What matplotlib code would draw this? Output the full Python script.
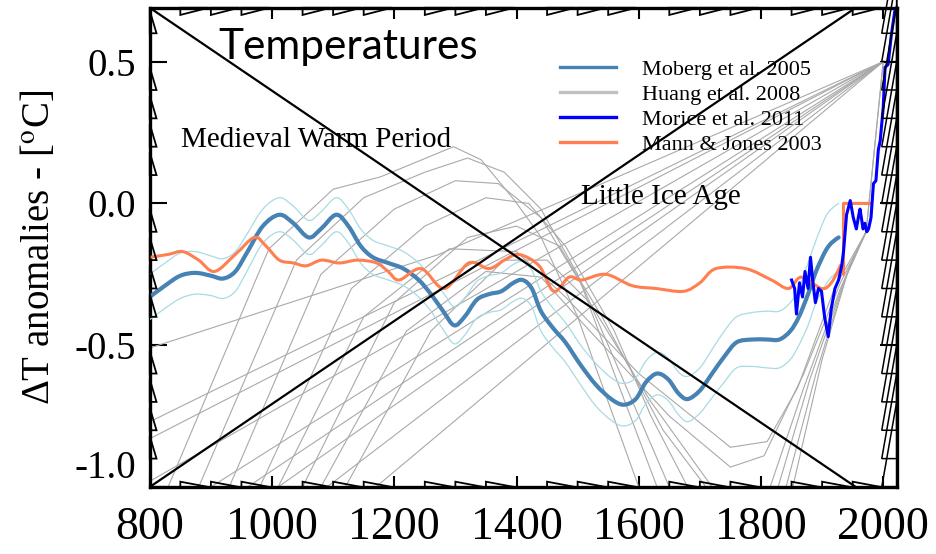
import numpy as np
import matplotlib.pyplot as plt
from matplotlib.patches import Polygon, PathPatch
from matplotlib.path import Path
from matplotlib.lines import Line2D

plt.rcParams['font.family'] = ['Liberation Serif', 'DejaVu Serif']
plt.rcParams['mathtext.fontset'] = 'stix'

# Moberg et al. 2005 reconstruction (smoothed) with its uncertainty half-width
moberg_years = [800, 825, 850, 875, 900, 920, 940, 960, 985, 1012, 1035, 1060, 1080, 1105,
                1125, 1145, 1165, 1190, 1215, 1240, 1260, 1280, 1298, 1315, 1335, 1355, 1375,
                1395, 1410, 1425, 1440, 1460, 1480, 1505, 1530, 1555, 1575, 1595, 1612, 1630,
                1648, 1665, 1680, 1700, 1720, 1740, 1760, 1785, 1810, 1830, 1848, 1862, 1877,
                1890, 1905, 1915, 1927]
moberg_vals = [-0.33, -0.29, -0.255, -0.245, -0.255, -0.265, -0.24, -0.17, -0.08, -0.04, -0.07,
               -0.12, -0.09, -0.04, -0.08, -0.15, -0.19, -0.21, -0.23, -0.27, -0.32, -0.38, -0.43,
               -0.40, -0.34, -0.32, -0.31, -0.28, -0.27, -0.30, -0.38, -0.44, -0.49, -0.57, -0.64,
               -0.69, -0.71, -0.69, -0.63, -0.60, -0.62, -0.67, -0.69, -0.66, -0.60, -0.54, -0.49,
               -0.48, -0.48, -0.48, -0.45, -0.40, -0.32, -0.24, -0.17, -0.14, -0.12]
moberg_err = [0.08, 0.08, 0.08, 0.075, 0.07, 0.07, 0.07, 0.065, 0.06, 0.06, 0.06, 0.06, 0.06,
              0.06, 0.06, 0.06, 0.06, 0.06, 0.06, 0.06, 0.06, 0.065, 0.065, 0.065, 0.065, 0.065,
              0.065, 0.065, 0.065, 0.065, 0.07, 0.07, 0.07, 0.07, 0.075, 0.075, 0.075, 0.075,
              0.075, 0.075, 0.075, 0.075, 0.08, 0.08, 0.085, 0.09, 0.09, 0.095, 0.1, 0.1, 0.1,
              0.1, 0.11, 0.11, 0.12, 0.12, 0.12]

# Mann & Jones 2003 (smooth part, then the step at the end)
mann_years = [800, 830, 854, 880, 906, 940, 971, 990, 1012, 1035, 1056, 1081, 1110, 1140, 1171,
              1190, 1208, 1244, 1282, 1322, 1355, 1380, 1404, 1437, 1461, 1486, 1507, 1546, 1589,
              1628, 1673, 1700, 1726, 1775, 1817, 1845, 1866, 1899, 1915, 1930]
mann_vals = [-0.19, -0.18, -0.17, -0.20, -0.24, -0.18, -0.12, -0.15, -0.20, -0.21, -0.22, -0.20,
             -0.21, -0.20, -0.21, -0.24, -0.27, -0.23, -0.30, -0.21, -0.23, -0.20, -0.18, -0.22,
             -0.31, -0.26, -0.27, -0.25, -0.29, -0.30, -0.31, -0.28, -0.23, -0.23, -0.27, -0.30,
             -0.26, -0.30, -0.28, -0.22]
mann_step_years = [1930, 1935, 1935, 1979]
mann_step_vals = [-0.22, -0.25, 0.0, 0.0]

# Morice et al. 2011 (HadCRUT4)
morice_years = [1850, 1855, 1858, 1863, 1868, 1872, 1877, 1881, 1885, 1889, 1894, 1899, 1904,
                1910, 1915, 1921, 1927, 1932, 1935, 1940, 1946, 1951, 1956, 1960, 1962, 1967,
                1970, 1973, 1976, 1980, 1984, 1988, 1992, 1995, 2000, 2003, 2008, 2013, 2019]
morice_vals = [-0.27, -0.30, -0.39, -0.28, -0.33, -0.24, -0.30, -0.19, -0.28, -0.35, -0.30,
               -0.31, -0.40, -0.47, -0.37, -0.30, -0.27, -0.22, -0.17, -0.04, 0.01, -0.05, -0.09,
               -0.04, -0.02, -0.09, -0.07, -0.10, -0.09, -0.05, 0.07, 0.08, 0.19, 0.22, 0.34,
               0.48, 0.49, 0.59, 0.68]

# Huang et al. 2008 borehole profiles, each as (years, values)
huang_profiles = [
    ([800, 1273, 2000], [-0.51, -0.18, 0.50]),
    ([800, 2000], [-0.77, 0.50]),
    ([800, 2000], [-0.83, 0.50]),
    ([800, 2000], [-0.98, 0.50]),
    ([900, 2000], [-1.0, 0.50]),
    ([960, 2000], [-1.0, 0.50]),
    ([1010, 2000], [-1.0, 0.50]),
    ([1090, 2000], [-1.0, 0.50]),
    ([1170, 2000], [-1.0, 0.50]),
    ([830, 995, 1100, 1178, 1297, 1342, 1396, 1440, 1500, 1600],
     [-1.0, -0.16, 0.05, 0.094, 0.20, 0.154, 0.013, -0.118, -0.40, -1.0]),
    ([880, 1040, 1150, 1250, 1320, 1380, 1440, 1500, 1560, 1630],
     [-1.0, -0.20, 0.02, 0.11, 0.16, 0.11, -0.02, -0.25, -0.60, -1.0]),
    ([930, 1080, 1200, 1300, 1370, 1440, 1510, 1580, 1650],
     [-1.0, -0.25, -0.02, 0.08, 0.07, -0.05, -0.30, -0.65, -1.0]),
    ([980, 1130, 1250, 1350, 1420, 1480, 1560, 1620, 1680],
     [-1.0, -0.30, -0.08, 0.02, 0.0, -0.15, -0.45, -0.75, -1.0]),
    ([1050, 1200, 1320, 1400, 1470, 1540, 1640, 1710],
     [-1.0, -0.35, -0.12, -0.08, -0.15, -0.40, -0.80, -1.0]),
    ([1120, 1260, 1380, 1450, 1520, 1620, 1720],
     [-1.0, -0.45, -0.20, -0.20, -0.35, -0.70, -1.0]),
    ([1010, 1150, 1290, 1400, 1480, 1600, 1750, 1810, 1860, 1920, 1972, 2000],
     [-1.0, -0.40, -0.16, -0.17, -0.33, -0.60, -0.86, -0.84, -0.65, -0.30, -0.10, 0.50]),
    ([1080, 1220, 1350, 1440, 1520, 1650, 1750, 1805, 1870, 1930, 1972, 2000],
     [-1.0, -0.45, -0.24, -0.26, -0.45, -0.75, -0.93, -0.89, -0.60, -0.28, -0.10, 0.50]),
    ([1815, 1870, 1930, 1972], [-1.0, -0.65, -0.30, -0.10]),
    ([1828, 1880, 1935, 1972], [-1.0, -0.62, -0.28, -0.10]),
    ([1841, 1890, 1940, 1972], [-1.0, -0.60, -0.25, -0.10]),
    ([1852, 1900, 1945, 1972], [-1.0, -0.55, -0.22, -0.10]),
]

xlim = (800, 2022)
ylim = (-1.0, 0.69)
xticks = [800, 1000, 1200, 1400, 1600, 1800, 2000]
yticks = [-1.0, -0.5, 0.0, 0.5]


def smooth_path(xs, ys):
    # Catmull-Rom through the points, drawn as cubic Bezier segments
    p = np.column_stack([xs, ys]).astype(float)
    p = np.vstack([p[0], p, p[-1]])
    verts = [p[1]]
    codes = [Path.MOVETO]
    for i in range(1, len(p) - 2):
        c1 = p[i] + (p[i + 1] - p[i - 1]) / 6.0
        c2 = p[i + 1] - (p[i + 2] - p[i]) / 6.0
        verts += [c1, c2, p[i + 1]]
        codes += [Path.CURVE4] * 3
    return Path(verts, codes)


def smooth_line(ax, xs, ys, **kw):
    ax.add_patch(PathPatch(smooth_path(xs, ys), fill=False, capstyle='round',
                           joinstyle='round', **kw))


fig = plt.figure(figsize=(9.36, 5.54), dpi=100)
ax = fig.add_axes([0.160, 0.121, 0.798, 0.865])

for yrs, vals in huang_profiles:
    ax.plot(yrs, vals, color='#a9a9a9', lw=0.8, zorder=2)

m_y = np.array(moberg_vals)
m_e = np.array(moberg_err)
smooth_line(ax, moberg_years, m_y + m_e, edgecolor='#a8dbe4', lw=0.9, zorder=3)
smooth_line(ax, moberg_years, m_y - m_e, edgecolor='#a8dbe4', lw=0.9, zorder=3)
smooth_line(ax, moberg_years, moberg_vals, edgecolor='#4682b4', lw=3.0, zorder=4)
smooth_line(ax, mann_years, mann_vals, edgecolor='#ff7f50', lw=2.2, zorder=4)
ax.plot(mann_step_years, mann_step_vals, color='#ff7f50', lw=2.2, zorder=4)
ax.plot(morice_years, morice_vals, color='#0000ff', lw=2.2, zorder=5, solid_joinstyle='round')

# corner-to-corner diagonals
ax.plot([800, 1955], [ylim[1], ylim[0]], color='black', lw=1.6, zorder=6)
ax.plot([800, 1955], [ylim[0], ylim[1]], color='black', lw=1.6, zorder=6)

ax.set_xlim(*xlim)
ax.set_ylim(*ylim)
ax.set_xticks(xticks)
ax.set_yticks(yticks)
ax.set_yticklabels(['%.1f' % v for v in yticks])
ax.tick_params(axis='x', labelsize=33, direction='in', length=8, width=1.5, top=True, pad=14)
ax.tick_params(axis='y', labelsize=28, direction='in', length=12, width=1.5, right=True, pad=10)
ax.get_yticklabels()[0].set_va('bottom')
for sp in ax.spines.values():
    sp.set_linewidth(2.4)
ax.set_ylabel('ΔT anomalies - [$^{\\rm o}$C]', fontsize=28, labelpad=12)

# triangular minor tick marks along the frame
bx = ax.get_xaxis_transform()
by = ax.get_yaxis_transform()
tri_kw = dict(closed=True, fill=False, edgecolor='black', lw=1.3, zorder=7, clip_on=False)
for t in range(850, 2000, 50):
    if t % 200 == 0:
        continue
    ax.add_patch(Polygon([(t, 0), (t, 0.011), (t + 46, 0)], transform=bx, **tri_kw))
    ax.add_patch(Polygon([(t, 1), (t, 0.985), (t + 46, 1)], transform=bx, **tri_kw))
for v in np.arange(-0.9, 0.69, 0.1):
    if abs(round(v * 10)) % 5 == 0:
        continue
    ax.add_patch(Polygon([(0, v + 0.08), (0.009, v), (0, v)], transform=by, **tri_kw))
for v in np.arange(-1.0, 0.69, 0.1):
    ax.add_patch(Polygon([(1, v + 0.3), (0.98, v), (1, v)], transform=by,
                         **dict(tri_kw, lw=1.1)))

ax.text(913, 0.553, 'Temperatures', family=['Lato', 'DejaVu Sans'], fontsize=30.5, va='center')
ax.text(851, 0.225, 'Medieval Warm Period', fontsize=21, va='center')
ax.text(1505, 0.024, 'Little Ice Age', fontsize=21, va='center')

handles = [Line2D([], [], color='#4682b4', lw=2.4),
           Line2D([], [], color='#c0c0c0', lw=2.4),
           Line2D([], [], color='#0000ff', lw=2.4),
           Line2D([], [], color='#ff7f50', lw=2.4)]
labels = ['Moberg et al. 2005', 'Huang et al. 2008', 'Morice et al. 2011', 'Mann & Jones 2003']
ax.legend(handles, labels, loc='upper left', bbox_to_anchor=(0.535, 0.915), frameon=False,
          fontsize=16, handlelength=2.5, handletextpad=1.15, labelspacing=0.2, borderpad=0)

fig.savefig('out.png', dpi=100)
